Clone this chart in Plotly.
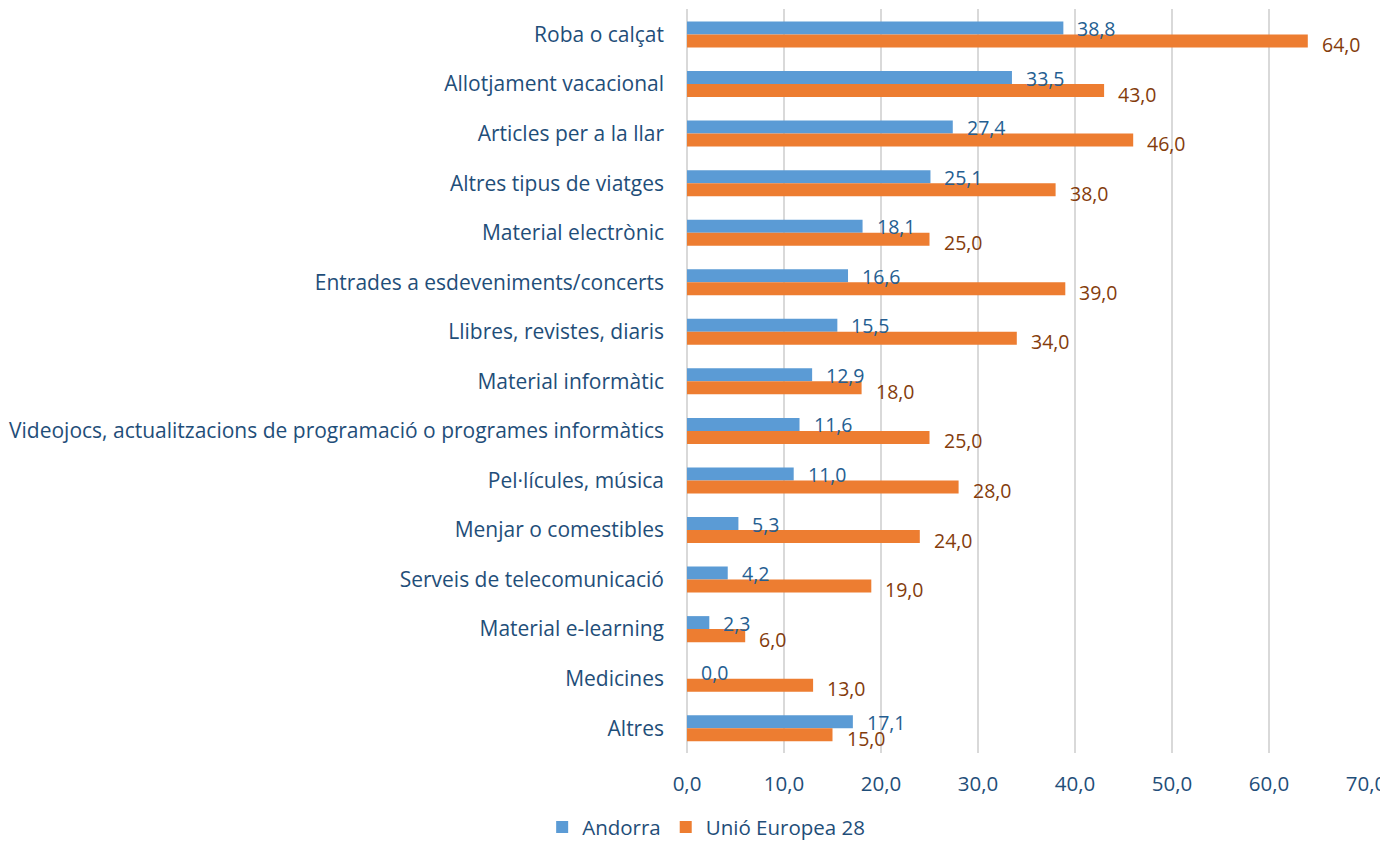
import plotly.graph_objects as go

categories = [
    "Roba o calçat",
    "Allotjament vacacional",
    "Articles per a la llar",
    "Altres tipus de viatges",
    "Material electrònic",
    "Entrades a esdeveniments/concerts",
    "Llibres, revistes, diaris",
    "Material informàtic",
    "Videojocs, actualitzacions de programació o programes informàtics",
    "Pel·lícules, música",
    "Menjar o comestibles",
    "Serveis de telecomunicació",
    "Material e-learning",
    "Medicines",
    "Altres",
]
andorra = [38.8, 33.5, 27.4, 25.1, 18.1, 16.6, 15.5, 12.9, 11.6, 11.0, 5.3, 4.2, 2.3, 0.0, 17.1]
ue28 = [64.0, 43.0, 46.0, 38.0, 25.0, 39.0, 34.0, 18.0, 25.0, 28.0, 24.0, 19.0, 6.0, 13.0, 15.0]
series_names = ["Andorra", "Unió Europea 28"]
x_ticks = [0, 10, 20, 30, 40, 50, 60, 70]

FONT = "Open Sans"
BLUE = "#5B9BD5"
ORANGE = "#ED7D31"
BLUE_TXT = "#255E91"
ORANGE_TXT = "#843C0C"
AXIS_TXT = "#1F4E79"
FS = 20.5


def fmt(v):
    return f"{v:.1f}".replace(".", ",")


fig = go.Figure()
fig.add_trace(go.Bar(y=categories, x=andorra, name=series_names[0], orientation="h",
                     marker=dict(color=BLUE, line=dict(width=0))))
fig.add_trace(go.Bar(y=categories, x=ue28, name=series_names[1], orientation="h",
                     marker=dict(color=ORANGE, line=dict(width=0))))

annotations = []
for c, a, u in zip(categories, andorra, ue28):
    annotations.append(dict(x=a, y=c, xref="x", yref="y", text=fmt(a), showarrow=False,
                            xanchor="left", yanchor="middle", xshift=12, yshift=6,
                            font=dict(family=FONT, size=19.5, color=BLUE_TXT)))
    annotations.append(dict(x=u, y=c, xref="x", yref="y", text=fmt(u), showarrow=False,
                            xanchor="left", yanchor="middle", xshift=12, yshift=-10,
                            font=dict(family=FONT, size=19.5, color=ORANGE_TXT)))

fig.update_layout(
    width=1388, height=849,
    margin=dict(l=679, r=30, t=1, b=104),
    paper_bgcolor="white", plot_bgcolor="white",
    barmode="group", bargap=0.475, bargroupgap=0,
    separators=",.",
    font=dict(family=FONT, size=FS, color=AXIS_TXT),
    annotations=annotations,
    legend=dict(orientation="h", xref="container", x=0.503, xanchor="center",
                yref="container", y=0.035, yanchor="middle",
                font=dict(family=FONT, size=FS, color=AXIS_TXT),
                traceorder="normal", itemwidth=30),
    showlegend=True,
)
fig.update_xaxes(range=[0, 70], tickvals=x_ticks, tickformat=".1f",
                 showgrid=True, gridcolor="#D9D9D9", gridwidth=2,
                 zeroline=True, zerolinecolor="#D9D9D9", zerolinewidth=2,
                 showline=False, ticks="", ticklabelstandoff=16,
                 tickfont=dict(family=FONT, size=FS, color=AXIS_TXT), fixedrange=True)
fig.update_yaxes(autorange="reversed", showgrid=False, showline=False, ticks="",
                 ticklabelstandoff=22, automargin=False,
                 tickfont=dict(family=FONT, size=21, color=AXIS_TXT), fixedrange=True)

fig.write_html("out.html")
